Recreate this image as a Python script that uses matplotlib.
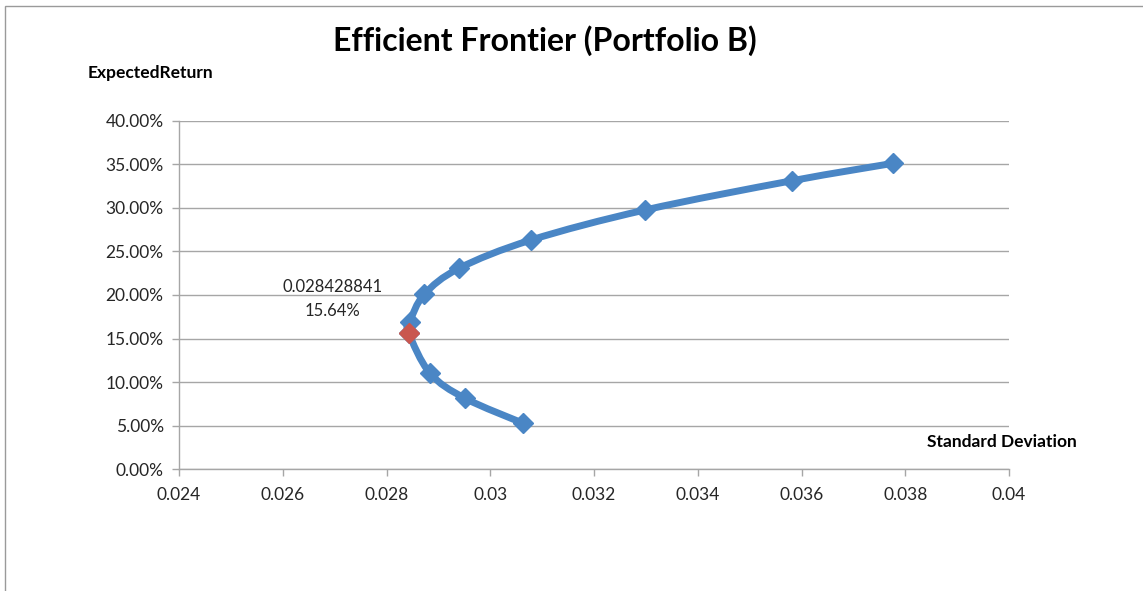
import numpy as np
import matplotlib.pyplot as plt
from matplotlib.path import Path
from matplotlib.patches import PathPatch, Rectangle
from matplotlib.ticker import FuncFormatter

plt.rcParams['font.family'] = ['Lato', 'DejaVu Sans']

# frontier points (std dev, expected return)
std_dev = [0.030637, 0.029513, 0.028839, 0.028429, 0.028450, 0.028729,
           0.029398, 0.030786, 0.032983, 0.035823, 0.037770]
exp_return = [0.0525, 0.0813, 0.1100, 0.1564, 0.1693, 0.2008,
              0.2307, 0.2632, 0.2977, 0.3314, 0.3514]

# minimum variance portfolio
min_var_std = [0.028428841]
min_var_ret = [0.1564]

x_ticks = [0.024, 0.026, 0.028, 0.03, 0.032, 0.034, 0.036, 0.038, 0.04]
y_ticks = [0.0, 0.05, 0.10, 0.15, 0.20, 0.25, 0.30, 0.35, 0.40]

BLUE = '#4A86C5'
RED = '#C9574F'
GRID = '#A6A6A6'
TEXT = '#262626'

fig = plt.figure(figsize=(11.43, 5.91), dpi=100)
fig.patches.append(Rectangle((0.0045, -0.01), 1.2, 1.0, transform=fig.transFigure,
                             fill=False, edgecolor='#9A9A9A', lw=1.0))
ax = fig.add_axes([0.1566, 0.2064, 0.7262, 0.5889])


def smooth_path(xs, ys):
    # catmull-rom style smoothing like Excel's smoothed scatter line
    pts = np.column_stack([xs, ys])
    verts = [pts[0]]
    codes = [Path.MOVETO]
    n = len(pts)
    for i in range(n - 1):
        p0 = pts[i - 1] if i > 0 else pts[i]
        p1 = pts[i]
        p2 = pts[i + 1]
        p3 = pts[i + 2] if i + 2 < n else pts[i + 1]
        c1 = p1 + (p2 - p0) / 6.0
        c2 = p2 - (p3 - p1) / 6.0
        verts += [c1, c2, p2]
        codes += [Path.CURVE4] * 3
    return Path(verts, codes)


# smoothing in display-like normalised space so the curve looks right
sx = (np.array(std_dev) - 0.024) / 0.016 * 830
sy = np.array(exp_return) / 0.40 * 348
path = smooth_path(sx, sy)
v = path.vertices.copy()
v[:, 0] = v[:, 0] / 830 * 0.016 + 0.024
v[:, 1] = v[:, 1] / 348 * 0.40
ax.add_patch(PathPatch(Path(v, path.codes), fill=False, edgecolor=BLUE,
                       lw=5, capstyle='round', joinstyle='round', zorder=3))

ax.plot(std_dev, exp_return, linestyle='none', marker='D', markersize=10,
        color=BLUE, zorder=4)
ax.plot(min_var_std, min_var_ret, linestyle='none', marker='D', markersize=10,
        color=RED, zorder=5)

ax.text(0.026965, 0.2095, '%.9f' % min_var_std[0], ha='center', va='center',
        fontsize=12, color=TEXT)
ax.text(0.026965, 0.1820, '%.2f%%' % (min_var_ret[0] * 100), ha='center',
        va='center', fontsize=12, color=TEXT)

ax.set_xlim(0.024, 0.04)
ax.set_ylim(0, 0.40)
ax.set_xticks(x_ticks)
ax.set_yticks(y_ticks)
ax.set_xticklabels([('%g' % t) for t in x_ticks])
ax.yaxis.set_major_formatter(FuncFormatter(lambda v, p: '%.2f%%' % (v * 100)))
ax.grid(axis='y', color=GRID, lw=1.0)
ax.set_axisbelow(True)
for s in ['top', 'right']:
    ax.spines[s].set_visible(False)
for s in ['left', 'bottom']:
    ax.spines[s].set_color(GRID)
    ax.spines[s].set_linewidth(1.0)
ax.tick_params(axis='both', colors=GRID, labelcolor=TEXT, labelsize=12.5,
               length=5, width=1.0, direction='out')
ax.tick_params(axis='y', pad=6)
ax.tick_params(axis='x', pad=8)

fig.text(0.477, 0.932, 'Efficient Frontier (Portfolio B)', ha='center',
         va='center', fontsize=23, fontweight='bold', color='black')
fig.text(0.077, 0.876, 'ExpectedReturn', ha='left', va='center',
         fontsize=12.5, fontweight='bold', color='black')
fig.text(0.942, 0.252, 'Standard Deviation', ha='right', va='center',
         fontsize=12.5, fontweight='bold', color='black')

fig.savefig('out.png', dpi=100)
